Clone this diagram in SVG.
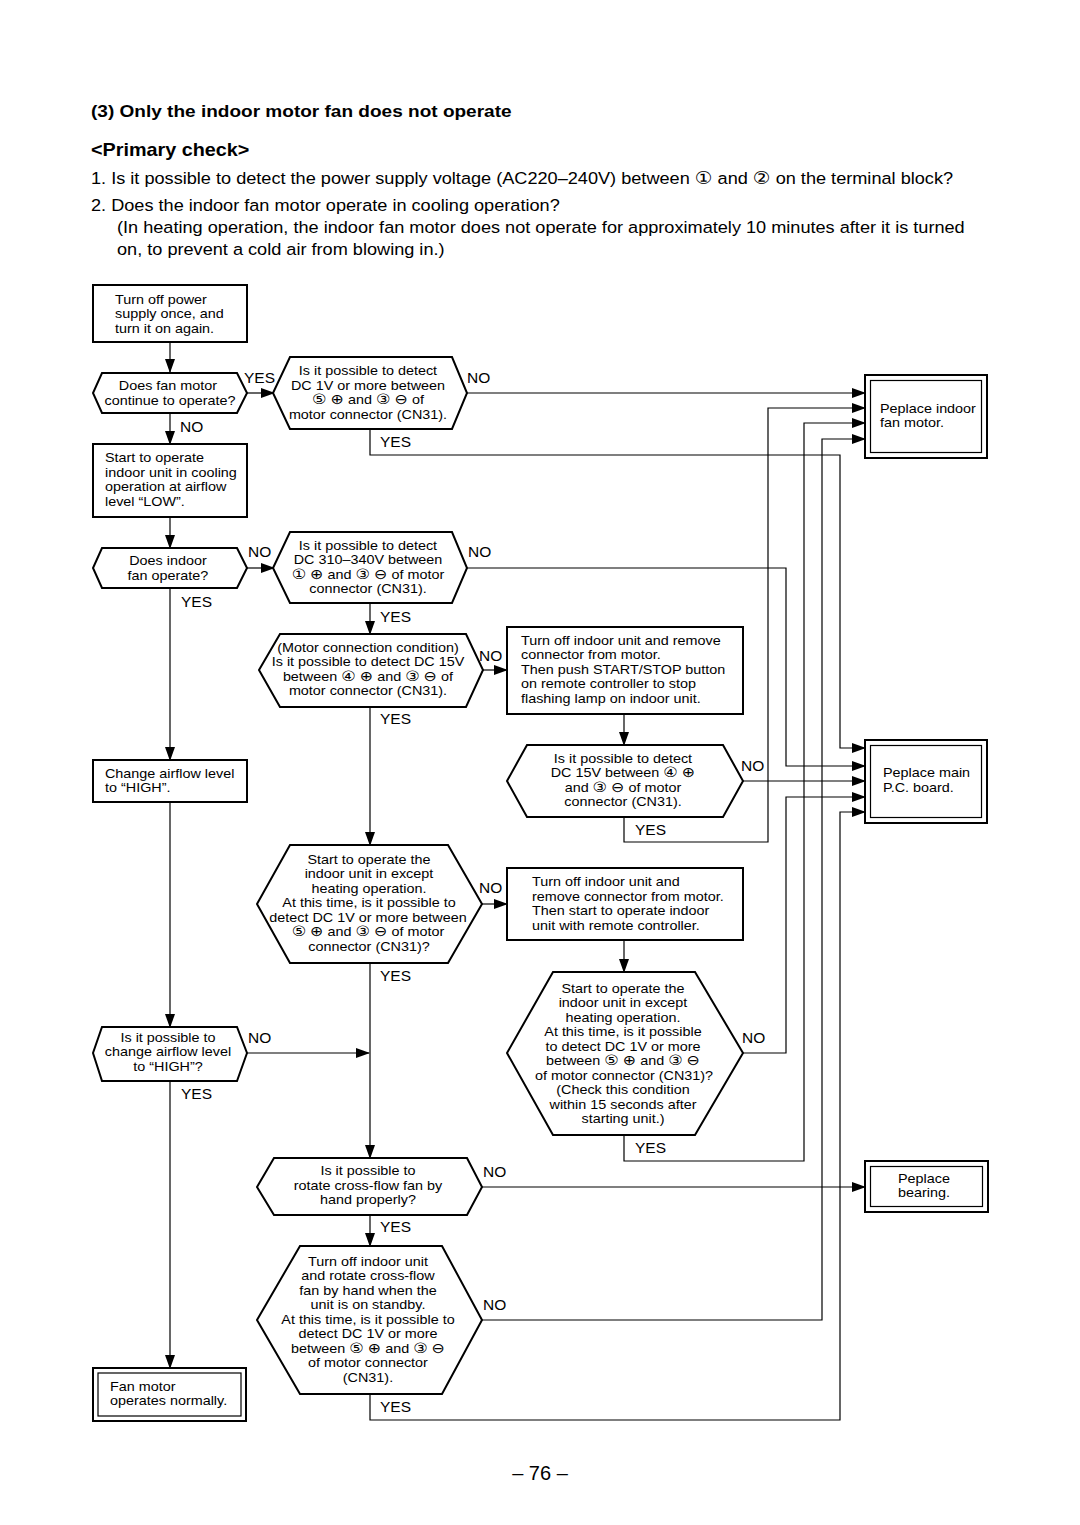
<svg xmlns="http://www.w3.org/2000/svg" width="1080" height="1525" viewBox="0 0 1080 1525">
<defs>
<style>
.n{fill:#fff;stroke:#000;stroke-width:2}
.n2{fill:none;stroke:#000;stroke-width:1.2}
.t{font-family:"Liberation Sans",Arial,sans-serif;font-size:12.5px;fill:#000;transform-box:fill-box;transform-origin:left center;transform:scaleX(1.15)}
.c{text-anchor:middle;transform-origin:center}
.k{font-family:"DejaVu Sans",sans-serif;font-size:14px}
.lb{font-family:"Liberation Sans",Arial,sans-serif;font-size:14.5px;fill:#000;transform-box:fill-box;transform-origin:left center;transform:scaleX(1.07)}
.h{font-family:"Liberation Sans",Arial,sans-serif;font-size:16.5px;fill:#000;transform-box:fill-box;transform-origin:left center;transform:scaleX(1.1)}
.hb{font-family:"Liberation Sans",Arial,sans-serif;font-size:17px;font-weight:bold;fill:#000;transform-box:fill-box;transform-origin:left center;transform:scaleX(1.12)}
.e{fill:none;stroke:#000;stroke-width:1.2}
</style>
<marker id="a" markerWidth="14" markerHeight="10" refX="13" refY="5" orient="auto" markerUnits="userSpaceOnUse">
<path d="M0,0 L14,5 L0,10 Z" fill="#000"/>
</marker>
</defs>
<rect width="1080" height="1525" fill="#fff"/>

<g id="header">
<text class="hb" x="91" y="117">(3)  Only the indoor motor fan does not operate</text>
<text class="hb" x="91" y="156" style="font-size:18px;transform:scaleX(1.1)">&lt;Primary check&gt;</text>
<text class="h" x="91" y="184">1.  Is it possible to detect the power supply voltage (AC220–240V) between <tspan class="k" style="font-size:18px">①</tspan> and <tspan class="k" style="font-size:18px">②</tspan> on the terminal block?</text>
<text class="h" x="91" y="211">2.  Does the indoor fan motor operate in cooling operation?</text>
<text class="h" x="117" y="233">(In heating operation, the indoor fan motor does not operate for approximately 10 minutes after it is turned</text>
<text class="h" x="117" y="255">on, to prevent a cold air from blowing in.)</text>
</g>

<g id="connectors">
<path class="e" d="M170,342 V372" marker-end="url(#a)"/>
<path class="e" d="M247,393 H274" marker-end="url(#a)"/>
<path class="e" d="M170,413 V444" marker-end="url(#a)"/>
<path class="e" d="M170,517 V548" marker-end="url(#a)"/>
<path class="e" d="M247,568 H274" marker-end="url(#a)"/>
<path class="e" d="M170,588 V760" marker-end="url(#a)"/>
<path class="e" d="M170,802 V1027" marker-end="url(#a)"/>
<path class="e" d="M247,1053 H369" marker-end="url(#a)"/>
<path class="e" d="M170,1081 V1368" marker-end="url(#a)"/>
<path class="e" d="M467,393 H865" marker-end="url(#a)"/>
<path class="e" d="M370,429 V455 H840 V748 H865" marker-end="url(#a)"/>
<path class="e" d="M467,568 H786 V766 H865" marker-end="url(#a)"/>
<path class="e" d="M370,603 V634" marker-end="url(#a)"/>
<path class="e" d="M483,670 H507" marker-end="url(#a)"/>
<path class="e" d="M624,714 V745" marker-end="url(#a)"/>
<path class="e" d="M743,781 H865" marker-end="url(#a)"/>
<path class="e" d="M624,817 V842 H768 V408 H865" marker-end="url(#a)"/>
<path class="e" d="M370,707 V845" marker-end="url(#a)"/>
<path class="e" d="M482,904 H507" marker-end="url(#a)"/>
<path class="e" d="M624,940 V972" marker-end="url(#a)"/>
<path class="e" d="M743,1053 H786 V797 H865" marker-end="url(#a)"/>
<path class="e" d="M624,1135 V1161 H804 V423 H865" marker-end="url(#a)"/>
<path class="e" d="M370,963 V1158" marker-end="url(#a)"/>
<path class="e" d="M482,1187 H865" marker-end="url(#a)"/>
<path class="e" d="M370,1215 V1246" marker-end="url(#a)"/>
<path class="e" d="M482,1320 H822 V439 H865" marker-end="url(#a)"/>
<path class="e" d="M370,1394 V1420 H840 V812 H865" marker-end="url(#a)"/>
</g>

<g id="labels">
<text class="lb" x="244" y="383">YES</text>
<text class="lb" x="467" y="383">NO</text>
<text class="lb" x="180" y="432">NO</text>
<text class="lb" x="380" y="447">YES</text>
<text class="lb" x="248" y="557">NO</text>
<text class="lb" x="468" y="557">NO</text>
<text class="lb" x="181" y="607">YES</text>
<text class="lb" x="380" y="622">YES</text>
<text class="lb" x="479" y="661">NO</text>
<text class="lb" x="380" y="724">YES</text>
<text class="lb" x="741" y="771">NO</text>
<text class="lb" x="635" y="835">YES</text>
<text class="lb" x="479" y="893">NO</text>
<text class="lb" x="380" y="981">YES</text>
<text class="lb" x="248" y="1043">NO</text>
<text class="lb" x="742" y="1043">NO</text>
<text class="lb" x="181" y="1099">YES</text>
<text class="lb" x="635" y="1153">YES</text>
<text class="lb" x="483" y="1177">NO</text>
<text class="lb" x="380" y="1232">YES</text>
<text class="lb" x="483" y="1310">NO</text>
<text class="lb" x="380" y="1412">YES</text>
</g>

<g id="n1">
<rect class="n" x="93" y="285" width="154" height="57"/>
<text class="t" x="115" y="304">Turn off power</text>
<text class="t" x="115" y="318">supply once, and</text>
<text class="t" x="115" y="333">turn it on again.</text>
</g>

<g id="n2">
<polygon class="n" points="102,373 237,373 247,393 237,413 102,413 93,393"/>
<text class="t c" x="168" y="390">Does fan motor</text>
<text class="t c" x="170" y="405">continue to operate?</text>
</g>

<g id="n3">
<polygon class="n" points="290,357 452,357 467,393 452,429 290,429 273,393"/>
<text class="t c" x="368" y="375">Is it possible to detect</text>
<text class="t c" x="368" y="390">DC 1V or more between</text>
<text class="t c" x="368" y="404"><tspan class="k">⑤</tspan> <tspan class="k">⊕</tspan> and <tspan class="k">③</tspan> <tspan class="k">⊖</tspan> of</text>
<text class="t c" x="368" y="419">motor connector (CN31).</text>
</g>

<g id="n4">
<rect class="n" x="93" y="444" width="154" height="73"/>
<text class="t" x="105" y="462">Start to operate</text>
<text class="t" x="105" y="477">indoor unit in cooling</text>
<text class="t" x="105" y="491">operation at airflow</text>
<text class="t" x="105" y="506">level “LOW”.</text>
</g>

<g id="n5">
<polygon class="n" points="102,548 237,548 247,568 237,588 102,588 93,568"/>
<text class="t c" x="168" y="565">Does indoor</text>
<text class="t c" x="168" y="580">fan operate?</text>
</g>

<g id="n6">
<polygon class="n" points="290,532 452,532 467,568 452,603 290,603 273,568"/>
<text class="t c" x="368" y="550">Is it possible to detect</text>
<text class="t c" x="368" y="564">DC 310–340V between</text>
<text class="t c" x="368" y="579"><tspan class="k">①</tspan> <tspan class="k">⊕</tspan> and <tspan class="k">③</tspan> <tspan class="k">⊖</tspan>  of motor</text>
<text class="t c" x="368" y="593">connector (CN31).</text>
</g>

<g id="n7">
<polygon class="n" points="280,634 466,634 483,670 466,707 280,707 259,670"/>
<text class="t c" x="368" y="652">(Motor connection condition)</text>
<text class="t c" x="368" y="666">Is it possible to detect DC 15V</text>
<text class="t c" x="368" y="681">between <tspan class="k">④</tspan> <tspan class="k">⊕</tspan> and <tspan class="k">③</tspan> <tspan class="k">⊖</tspan> of</text>
<text class="t c" x="368" y="695">motor connector (CN31).</text>
</g>

<g id="n8">
<rect class="n" x="507" y="627" width="236" height="87"/>
<text class="t" x="521" y="645">Turn off indoor unit and remove</text>
<text class="t" x="521" y="659">connector from motor.</text>
<text class="t" x="521" y="674">Then push START/STOP button</text>
<text class="t" x="521" y="688">on remote controller to stop</text>
<text class="t" x="521" y="703">flashing lamp on indoor unit.</text>
</g>

<g id="n9">
<polygon class="n" points="527,745 723,745 743,781 723,817 527,817 507,781"/>
<text class="t c" x="623" y="763">Is it possible to detect</text>
<text class="t c" x="623" y="777">DC 15V between <tspan class="k">④</tspan> <tspan class="k">⊕</tspan></text>
<text class="t c" x="623" y="792">and <tspan class="k">③</tspan> <tspan class="k">⊖</tspan> of motor</text>
<text class="t c" x="623" y="806">connector (CN31).</text>
</g>

<g id="n10">
<rect class="n" x="93" y="760" width="154" height="42"/>
<text class="t" x="105" y="778">Change airflow level</text>
<text class="t" x="105" y="792">to “HIGH”.</text>
</g>

<g id="n11">
<polygon class="n" points="290,845 448,845 482,904 448,963 290,963 257,904"/>
<text class="t c" x="369" y="864">Start to operate the</text>
<text class="t c" x="369" y="878">indoor unit in except</text>
<text class="t c" x="369" y="893">heating operation.</text>
<text class="t c" x="369" y="907">At this time, is it possible to</text>
<text class="t c" x="368" y="922">detect DC 1V or more between</text>
<text class="t c" x="368" y="936"><tspan class="k">⑤</tspan> <tspan class="k">⊕</tspan> and <tspan class="k">③</tspan> <tspan class="k">⊖</tspan> of motor</text>
<text class="t c" x="369" y="951">connector (CN31)?</text>
</g>

<g id="n12">
<rect class="n" x="507" y="868" width="236" height="72"/>
<text class="t" x="532" y="886">Turn off indoor unit and</text>
<text class="t" x="532" y="901">remove connector from motor.</text>
<text class="t" x="532" y="915">Then start to operate indoor</text>
<text class="t" x="532" y="930">unit with remote controller.</text>
</g>

<g id="n13">
<polygon class="n" points="553,972 695,972 743,1053 695,1135 553,1135 507,1053"/>
<text class="t c" x="623" y="993">Start to operate the</text>
<text class="t c" x="623" y="1007">indoor unit in except</text>
<text class="t c" x="623" y="1022">heating operation.</text>
<text class="t c" x="623" y="1036">At this time, is it possible</text>
<text class="t c" x="623" y="1051">to detect DC 1V or more</text>
<text class="t c" x="623" y="1065">between <tspan class="k">⑤</tspan> <tspan class="k">⊕</tspan> and <tspan class="k">③</tspan> <tspan class="k">⊖</tspan></text>
<text class="t c" x="624" y="1080">of motor connector (CN31)?</text>
<text class="t c" x="623" y="1094">(Check this condition</text>
<text class="t c" x="623" y="1109">within 15 seconds after</text>
<text class="t c" x="623" y="1123">starting unit.)</text>
</g>

<g id="n14">
<polygon class="n" points="102,1027 237,1027 247,1053 237,1081 102,1081 93,1053"/>
<text class="t c" x="168" y="1042">Is it possible to</text>
<text class="t c" x="168" y="1056">change airflow level</text>
<text class="t c" x="168" y="1071">to “HIGH”?</text>
</g>

<g id="n15">
<polygon class="n" points="274,1158 467,1158 482,1187 467,1215 274,1215 257,1187"/>
<text class="t c" x="368" y="1175">Is it possible to</text>
<text class="t c" x="368" y="1190">rotate cross-flow fan by</text>
<text class="t c" x="368" y="1204">hand properly?</text>
</g>

<g id="n16">
<polygon class="n" points="300,1246 442,1246 482,1320 442,1394 300,1394 257,1320"/>
<text class="t c" x="368" y="1266">Turn off indoor unit</text>
<text class="t c" x="368" y="1280">and rotate cross-flow</text>
<text class="t c" x="368" y="1295">fan by hand when the</text>
<text class="t c" x="368" y="1309">unit is on standby.</text>
<text class="t c" x="368" y="1324">At this time, is it possible to</text>
<text class="t c" x="368" y="1338">detect DC 1V or more</text>
<text class="t c" x="368" y="1353">between <tspan class="k">⑤</tspan> <tspan class="k">⊕</tspan> and <tspan class="k">③</tspan> <tspan class="k">⊖</tspan></text>
<text class="t c" x="368" y="1367">of motor connector</text>
<text class="t c" x="368" y="1382">(CN31).</text>
</g>

<g id="n17">
<rect class="n" x="93" y="1368" width="153" height="53"/>
<rect class="n2" x="98" y="1373" width="143" height="43"/>
<text class="t" x="110" y="1391">Fan motor</text>
<text class="t" x="110" y="1405">operates normally.</text>
</g>

<g id="n18">
<rect class="n" x="865" y="375" width="122" height="83"/>
<rect class="n2" x="870.5" y="380.5" width="111" height="72"/>
<text class="t" x="880" y="413">Peplace indoor</text>
<text class="t" x="880" y="427">fan motor.</text>
</g>

<g id="n19">
<rect class="n" x="865" y="740" width="122" height="83"/>
<rect class="n2" x="870.5" y="745.5" width="111" height="72"/>
<text class="t" x="883" y="777">Peplace main</text>
<text class="t" x="883" y="792">P.C. board.</text>
</g>

<g id="n20">
<rect class="n" x="865" y="1161" width="123" height="51"/>
<rect class="n2" x="870.5" y="1166.5" width="112" height="40"/>
<text class="t" x="898" y="1183">Peplace</text>
<text class="t" x="898" y="1197">bearing.</text>
</g>

<text id="page" x="540" y="1480" text-anchor="middle" style="font-family:'Liberation Sans',Arial,sans-serif;font-size:20px">– 76 –</text>
</svg>
